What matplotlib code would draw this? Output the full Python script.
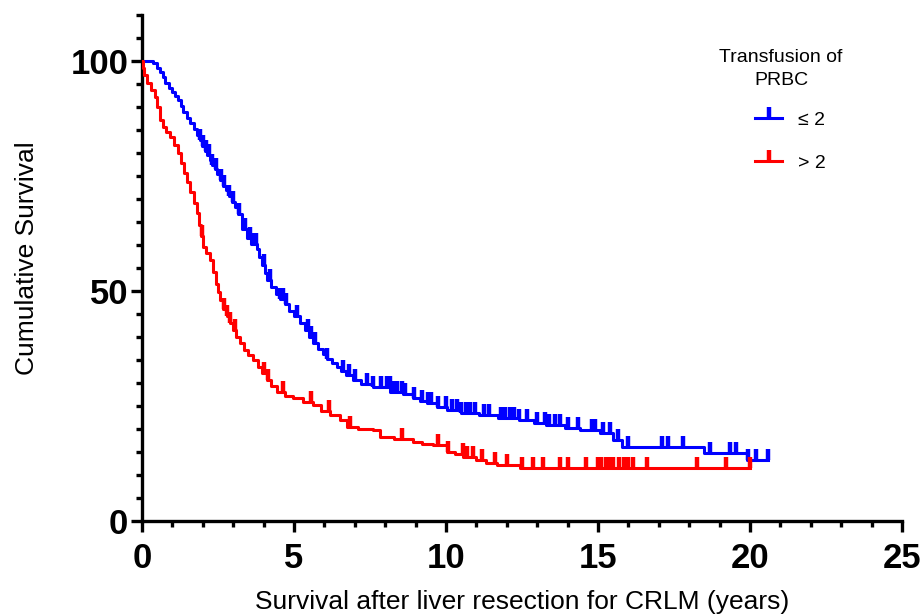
import numpy as np
import matplotlib.pyplot as plt
from matplotlib.lines import Line2D
from matplotlib.markers import TICKUP

plt.rcParams['font.family'] = ['Liberation Sans', 'DejaVu Sans']

# =========================
# DATA
# =========================
low_t = [0, 0.36, 0.5, 0.59, 0.68, 0.76, 0.88, 0.99, 1.08, 1.18, 1.27, 1.35, 1.47, 1.58,
         1.7, 1.81, 1.9, 1.98, 2.06, 2.14, 2.22, 2.3, 2.4, 2.47, 2.55, 2.65, 2.75, 2.85,
         2.95, 3.05, 3.15, 3.3, 3.45, 3.6, 3.78, 3.85, 3.95, 4.03, 4.11, 4.25, 4.4, 4.55,
         4.7, 4.85, 5.0, 5.2, 5.35, 5.5, 5.63, 5.8, 5.95, 6.1, 6.25, 6.41, 6.55, 6.7, 6.94,
         7.2, 7.6, 8.16, 8.59, 8.9, 9.15, 9.38, 9.7, 10.03, 10.5, 11.1, 11.7, 12.4, 12.9,
         13.3, 13.9, 14.4, 15.07, 15.5, 15.8, 18.5, 19.9, 20.6]
low_s = [100, 99.6, 98.6, 97.6, 96.5, 95.4, 94.3, 93.3, 92.4, 91.5, 90.2, 88.9, 87.7, 86.5,
         85.2, 83.9, 82.8, 81.6, 80.6, 79.6, 78.5, 77.5, 76.5, 75.5, 74.3, 73, 72, 70.8,
         69.5, 68.3, 66.8, 63.5, 61.5, 60.2, 59.2, 57.4, 55.8, 54, 52.4, 51, 49.5, 48.3,
         47.2, 45.8, 44.6, 43, 41.5, 40.1, 38.7, 37.5, 36.4, 35.3, 34.5, 33.5, 32.6, 31.8, 30.7,
         29.8, 29.1, 28.0, 27.6, 26.8, 26.2, 25.7, 24.9, 24.1, 23.6, 23.0, 22.5, 22.0, 21.4,
         20.9, 20.3, 19.8, 19.1, 17.6, 16.1, 14.8, 13.3, 13.3]
low_cens = [1.9, 2.0, 2.1, 2.2, 2.3, 2.45, 2.6, 2.7, 2.85, 3.0, 3.2, 3.4, 3.55, 3.65, 3.75,
            4.0, 4.2, 4.55, 4.65, 4.75, 5.1, 5.45, 5.55, 5.7, 6.1, 6.6, 6.8, 7.0, 7.4, 7.6,
            7.85, 8.05, 8.15, 8.25, 8.4, 8.55, 8.65, 8.95, 9.2, 9.4, 9.5, 9.75, 10.0, 10.2,
            10.35, 10.5, 10.65, 10.8, 10.95, 11.25, 11.4, 11.8, 11.95, 12.1, 12.25, 12.4,
            12.65, 13.0, 13.25, 13.4, 13.6, 13.75, 14.0, 14.35, 14.8, 14.9, 15.15, 15.4,
            15.65, 16.0, 17.1, 17.3, 17.8, 18.7, 19.35, 19.55, 19.95, 20.2, 20.6]

high_t = [0, 0.03, 0.08, 0.16, 0.3, 0.43, 0.5, 0.59, 0.7, 0.8, 0.92, 1.05, 1.18, 1.28,
          1.38, 1.48, 1.58, 1.7, 1.81, 1.88, 1.94, 2.0, 2.1, 2.24, 2.33, 2.42, 2.5, 2.57,
          2.68, 2.78, 2.89, 3.0, 3.1, 3.22, 3.35, 3.5, 3.65, 3.8, 3.95, 4.11, 4.25, 4.44,
          4.7, 4.97, 5.3, 5.63, 5.9, 6.2, 6.5, 6.74, 7.1, 7.6, 7.83, 8.3, 8.9, 9.2, 9.57,
          10.03, 10.3, 10.56, 11.0, 11.3, 11.68, 12.43, 20.0]
high_s = [100, 98.5, 97, 95.4, 93.8, 92.2, 90, 87.2, 85.8, 84.7, 83.5, 81.8, 80, 77.8,
          75.8, 73.7, 71.5, 69.3, 67, 64.5, 62, 59.6, 58.3, 56.7, 54.2, 51.5, 49.8, 48,
          46.2, 44.6, 43, 41.5, 40.1, 38.7, 37.3, 36.2, 35, 33.6, 32.2, 30.7, 29.3, 28,
          27.3, 26.7, 26, 25.2, 24, 23, 22, 20.4, 20.0, 19.8, 18.3, 17.8, 17.2, 16.8, 16.5,
          15, 14.5, 13.9, 13.2, 12.7, 12.2, 11.5, 11.5]
high_cens = [1.97, 2.7, 2.8, 2.9, 3.06, 4.0, 4.15, 4.64, 5.56, 6.15, 6.84, 8.55, 9.75, 10.05,
             10.55, 10.7, 10.9, 11.2, 11.6, 12.0, 12.5, 12.85, 13.2, 13.75, 14.0, 14.6,
             15.0, 15.1, 15.25, 15.4, 15.5, 15.7, 15.85, 16.0, 16.15, 16.6, 18.25, 19.2, 20.0]

groups = ["\u2264 2", "> 2"]
colors = ["#0000ff", "#ff0000"]


def surv_at(t_steps, s_steps, times):
    idx = np.searchsorted(t_steps, times, side="right") - 1
    return np.array(s_steps)[idx]


# =========================
# PLOT
# =========================
fig = plt.figure(figsize=(9.24, 6.16), dpi=100)
ax = fig.add_axes([0.1537, 0.154, 0.8225, 0.821])

for t, s, cens, c in [(low_t, low_s, low_cens, colors[0]),
                      (high_t, high_s, high_cens, colors[1])]:
    ax.step(t, s, where="post", color=c, lw=2.2, zorder=3)
    ax.plot(cens, surv_at(t, s, cens), ls="none", marker=TICKUP, ms=8,
            mew=3.2, color=c, zorder=3)

ax.set_xlim(0, 25)
ax.set_ylim(0, 110)
ax.set_xticks([0, 5, 10, 15, 20, 25])
ax.set_xticks(np.arange(0, 26, 1), minor=True)
ax.set_yticks([0, 50, 100])
ax.set_yticks(np.arange(0, 111, 5), minor=True)

for side in ["top", "right"]:
    ax.spines[side].set_visible(False)
for side in ["left", "bottom"]:
    ax.spines[side].set_linewidth(2.4)

ax.tick_params(which="major", length=8, width=2.4, labelsize=25)
ax.tick_params(which="minor", length=4.5, width=2.4)
ax.tick_params(axis="x", which="major", pad=7)
ax.tick_params(axis="y", which="major", pad=2)
for lab in ax.get_xticklabels() + ax.get_yticklabels():
    lab.set_fontweight("bold")

ax.set_xlabel("Survival after liver resection for CRLM (years)", fontsize=19)
ax.set_ylabel("Cumulative Survival", fontsize=19)
ax.xaxis.set_label_coords(0.5, -0.136)
ax.yaxis.set_label_coords(-0.135, 0.52)

# legend: title as separate text so entries can sit right of centre like the original
fig.text(781 / 924, 1 - 49 / 616, "Transfusion of\nPRBC", ha="center", va="top",
         fontsize=14, linespacing=1.45, multialignment="center")
handles = [Line2D([], [], color=c, lw=2.2, marker=TICKUP, ms=8, mew=3.2) for c in colors]
leg = fig.legend(handles, groups, loc="upper left",
                 bbox_to_anchor=(755 / 924, 1 - 111 / 616), frameon=False,
                 fontsize=14, handlelength=1.4, borderpad=0, borderaxespad=0,
                 labelspacing=1.3, numpoints=1)

fig.savefig("out.png", dpi=100)
